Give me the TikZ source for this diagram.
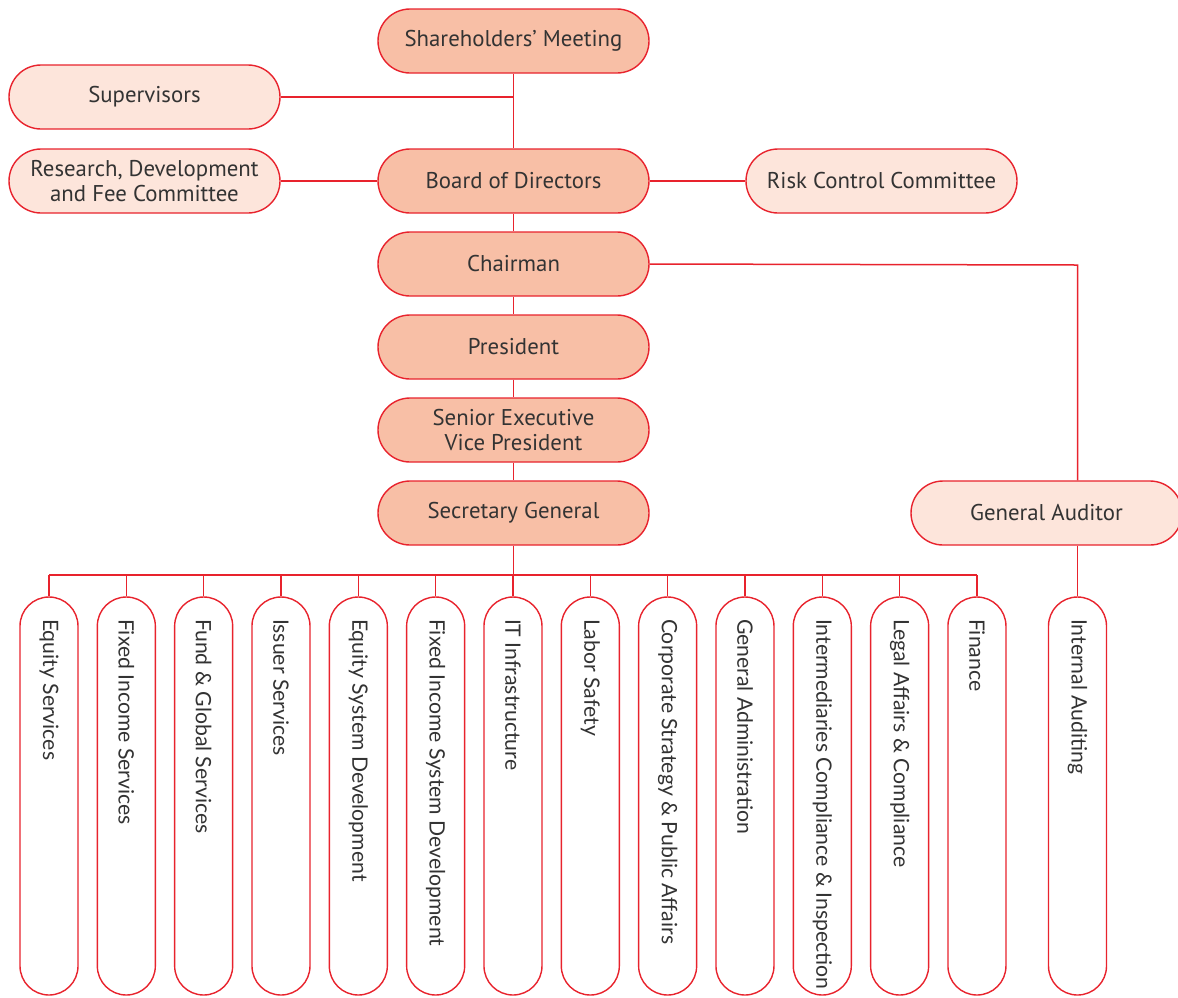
\documentclass[tikz,border=0pt]{standalone}
\usepackage{fontspec}
\setmainfont{PT Sans}
\newfontfamily\vfont{Lato}
\definecolor{lr}{HTML}{E8232D}
\definecolor{dk}{HTML}{F8BFA6}
\definecolor{lt}{HTML}{FDE5DB}
\definecolor{tx}{HTML}{333333}
\begin{document}
\begin{tikzpicture}[x=1pt,y=-1pt,
 hbox/.style={draw=lr, line width=1.4pt, rounded corners=32pt, minimum width=271pt, minimum height=64pt, inner sep=0pt, align=center, font=\fontsize{22.8}{25}\selectfont, text=tx},
 main/.style={hbox, fill=dk},
 side/.style={hbox, fill=lt},
 dept/.style={draw=lr, line width=1.4pt, fill=white, rounded corners=29pt, rotate=-90, minimum width=398pt, minimum height=58pt, inner xsep=22pt, inner ysep=0pt, font=\vfont\fontsize{21.2}{24}\selectfont, text=tx},
 conn/.style={draw=lr, line width=1.5pt}]
\useasboundingbox (0,0) rectangle (1178,997);

\node[main] (sh) at (513.5,41) {Shareholders' Meeting};
\node[side] (sup) at (144.5,97) {Supervisors};
\node[side] (rd) at (144.5,181) {Research, Development\\and Fee Committee};
\node[main] (bd) at (513.5,181) {Board of Directors};
\node[side] (rc) at (881.5,181) {Risk Control Committee};
\node[main] (ch) at (513.5,264) {Chairman};
\node[main] (pr) at (513.5,347) {President};
\node[main] (sevp) at (513.5,430) {Senior Executive\\Vice President};
\node[main] (sg) at (513.5,513) {Secretary General};
\node[side] (ga) at (1046.5,513) {General Auditor};

\foreach \t [count=\i] in {Equity Services,Fixed Income Services,Fund \& Global Services,Issuer Services,Equity System Development,Fixed Income System Development,IT Infrastructure,Labor Safety,Corporate Strategy \& Public Affairs,General Administration,Intermediaries Compliance \& Inspection,Legal Affairs \& Compliance,Finance}
  \node[dept] (d\i) at ({49+77.33*(\i-1)},796) {\makebox[354pt][l]{\t}};
\node[dept] (ia) at (1077.5,796) {\makebox[354pt][l]{Internal Auditing}};

\coordinate (bus) at (513.5,575);
\coordinate (gaj) at (1077.5,265);

\draw[conn] (sh.south) -- (bd.north);
\draw[conn] (sup.east) -- (sup.east -| sh.south);
\draw[conn] (rd.east) -- (bd.west);
\draw[conn] (bd.east) -- (rc.west);
\draw[conn] (bd.south) -- (ch.north);
\draw[conn] (ch.south) -- (pr.north);
\draw[conn] (pr.south) -- (sevp.north);
\draw[conn] (sevp.south) -- (sg.north);
\draw[conn] (sg.south) -- (bus);
\draw[conn] (ch.east) -- (gaj) -- (gaj |- ga.north);
\draw[conn] (ia.west |- ga.south) -- (ia.west);
\draw[conn] (d1.west |- bus) -- (d13.west |- bus);
\foreach \i in {1,...,13}
  \draw[conn] (d\i.west |- bus) -- (d\i.west);
\end{tikzpicture}
\end{document}
